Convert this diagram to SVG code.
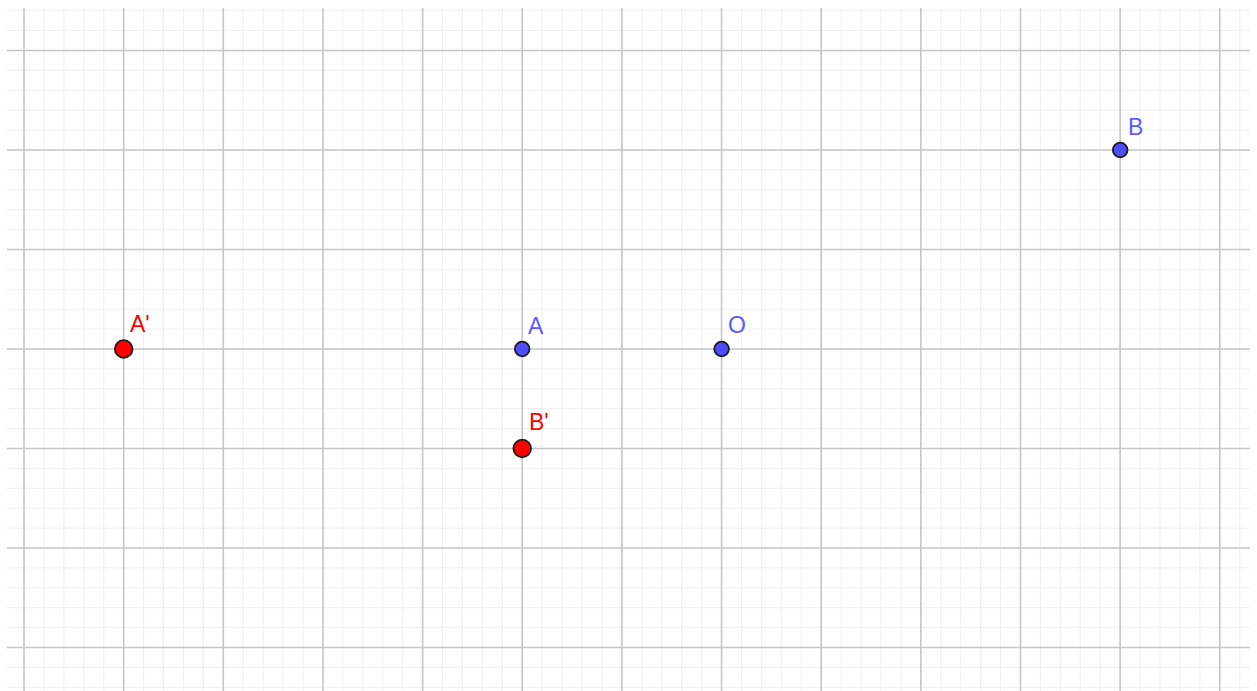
<svg xmlns="http://www.w3.org/2000/svg" width="1257" height="691" viewBox="0 0 1257 691">
<style>
.minor{stroke:#eeeeee;stroke-width:1;fill:none}
.major{stroke:#c6c6c6;stroke-width:1.6;fill:none}
.pb{fill:#4d4dff;stroke:#1a1a1a;stroke-width:1.8}
.pr{fill:#ff0000;stroke:#1a1a1a;stroke-width:1.8}
.lb{font-family:"Liberation Sans",Arial,sans-serif;font-size:23px;fill:#5c5cff}
.lr{font-family:"Liberation Sans",Arial,sans-serif;font-size:23px;fill:#ff0000}
</style>
<defs>
<clipPath id="c"><rect x="7" y="8" width="1243" height="683"/></clipPath>
<pattern id="mn" patternUnits="userSpaceOnUse" x="24" y="50.5" width="19.93" height="19.9">
<path d="M0,0.5 H19.93 M0.5,0 V19.9" class="minor"/>
</pattern>
</defs>
<rect width="1257" height="691" fill="#ffffff"/>
<g id="grid" clip-path="url(#c)">
<rect x="7" y="8" width="1243" height="683" fill="url(#mn)" transform="translate(-0.5,-0.5)"/>
<path class="major" d="M24,8V691 M123.65,8V691 M223.3,8V691 M322.95,8V691 M422.6,8V691 M522.25,8V691 M621.9,8V691 M721.55,8V691 M821.2,8V691 M920.85,8V691 M1020.5,8V691 M1120.15,8V691 M1219.8,8V691"/>
<path class="major" d="M7,50.5H1250 M7,150H1250 M7,249.5H1250 M7,349H1250 M7,448.5H1250 M7,548H1250 M7,647.5H1250"/>
</g>
<g id="connectors"></g>
<g id="A1"><circle class="pr" cx="123.7" cy="349" r="8.8"/><text class="lr" x="130" y="332">A'</text></g>
<g id="A"><circle class="pb" cx="522.2" cy="349" r="7.3"/><text class="lb" x="528" y="334">A</text></g>
<g id="O"><circle class="pb" cx="721.6" cy="349" r="7.3"/><text class="lb" x="728" y="333">O</text></g>
<g id="B"><circle class="pb" cx="1120.2" cy="150" r="7.3"/><text class="lb" x="1128" y="135">B</text></g>
<g id="B1"><circle class="pr" cx="522.2" cy="448.5" r="8.8"/><text class="lr" x="529" y="430">B'</text></g>
</svg>
